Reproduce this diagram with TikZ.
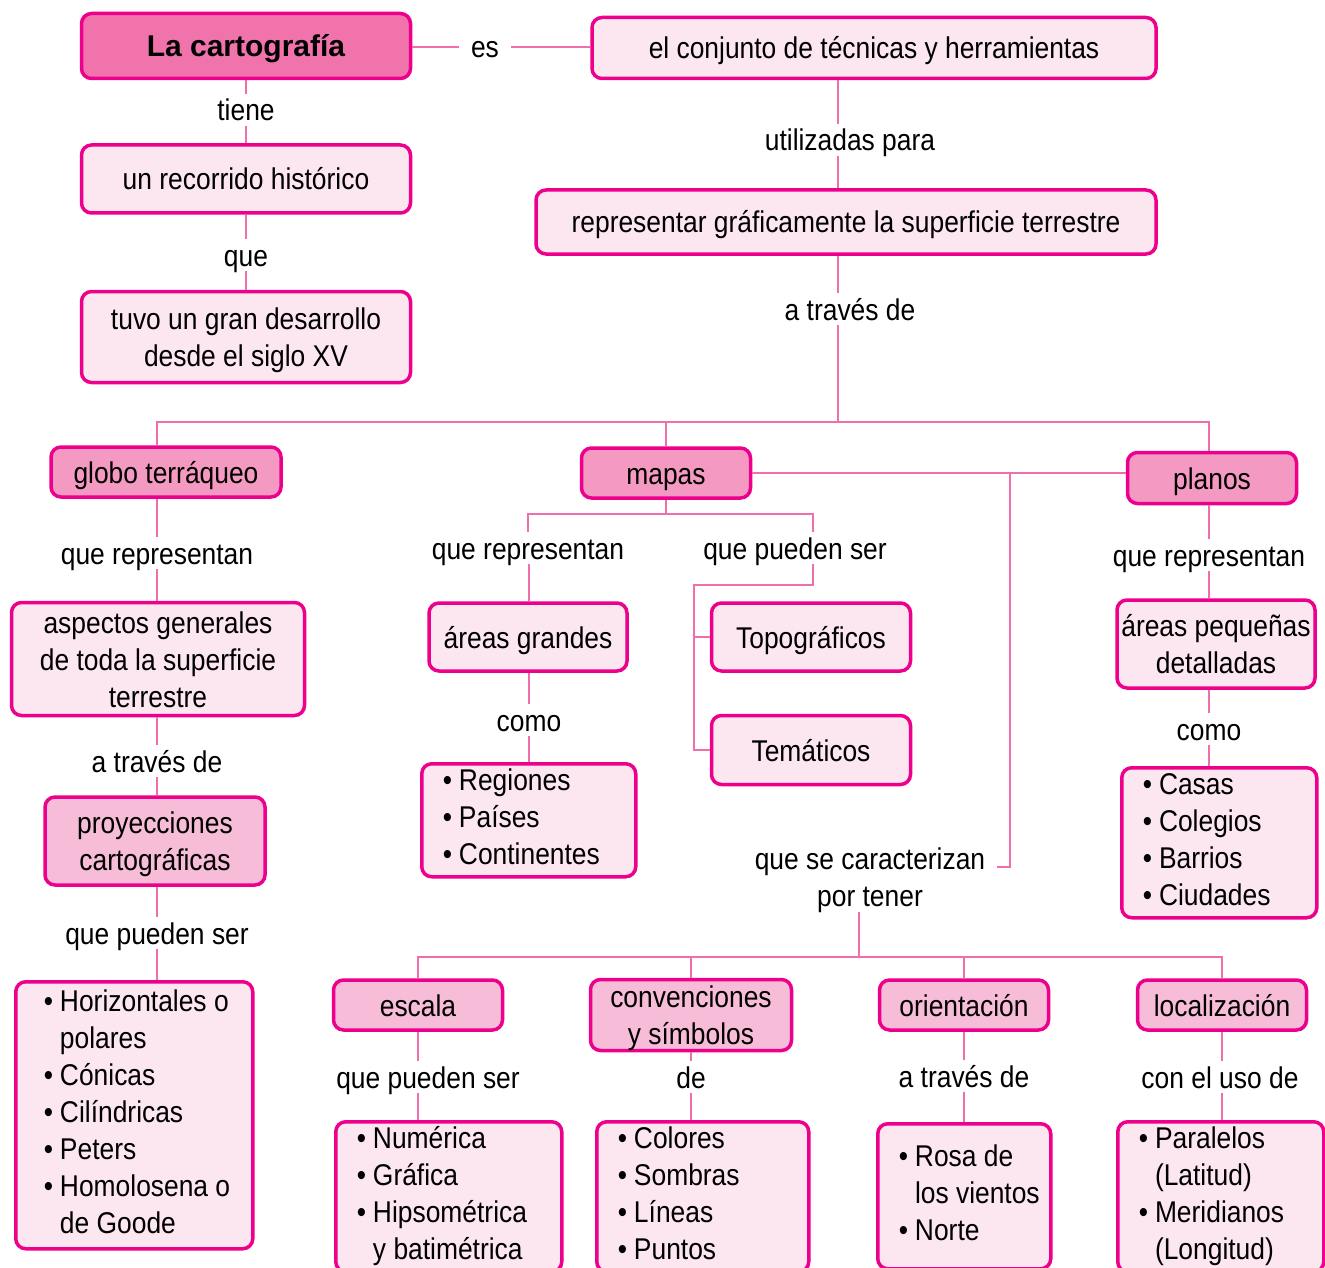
\documentclass[tikz,border=0pt]{standalone}
\usepackage{fontspec}
\setmainfont{Liberation Sans}[FakeStretch=0.88]
\newfontfamily\titlefont{Liberation Sans}
\usetikzlibrary{positioning}

\definecolor{borde}{HTML}{EC008C}
\definecolor{linea}{HTML}{F06EAA}
\definecolor{fondoA}{HTML}{F173AC}
\definecolor{fondoB}{HTML}{F49AC2}
\definecolor{fondoC}{HTML}{F7BCD7}
\definecolor{fondoD}{HTML}{FCE6F0}
\newcommand{\mapfont}{\fontsize{30}{37}\selectfont}
\newcommand{\itm}{•\hspace{7pt}}
\newcommand{\sng}{\hphantom{\itm}}

\begin{document}
\begin{tikzpicture}[x=1pt, y=-1pt,
    box/.style={draw=borde, line width=3.5pt, rounded corners=10pt, inner sep=0pt, align=center, font=\mapfont},
    mid/.style={text height=26pt, text depth=4pt},
    two/.style={text height=63pt},
    three/.style={text height=100pt},
    tema_box/.style={box, mid, fill=fondoA},
    rama_box/.style={box, mid, fill=fondoB},
    sub_box/.style={box, mid, fill=fondoC},
    hoja_box/.style={box, mid, fill=fondoD},
    lista_box/.style={box, fill=fondoD, anchor=north west, align=flush left, inner xsep=21pt, inner ysep=1pt},
    lbl/.style={inner xsep=12pt, inner ysep=3pt, align=center, font=\mapfont, text height=24pt, text depth=2pt},
    con/.style={draw=linea, line width=2.5pt}]

    \useasboundingbox (0,0) rectangle (1325,1268);
    \clip (0,0) rectangle (1325,1268);

    % parte superior
    \node[tema_box, minimum width=329, minimum height=65] (carto) at (246,46) {\titlefont\bfseries La cartografía};
    \node[lbl] (es) at (485,47) {es};
    \node[hoja_box, minimum width=564, minimum height=61] (tecnicas) at (874,48) {el conjunto de técnicas y herramientas};
    \node[lbl] (tiene) at (246,110) {tiene};
    \node[hoja_box, minimum width=329, minimum height=68] (recorrido) at (246,179) {un recorrido histórico};
    \node[lbl] (que) at (246,255) {que};
    \node[hoja_box, two, minimum width=329, minimum height=91] (desarrollo) at (246,337) {tuvo un gran desarrollo\\desde el siglo XV};
    \node[lbl] (utilizadas) at (850,140) {utilizadas para};
    \node[hoja_box, minimum width=620, minimum height=64] (representar) at (846,222) {representar gráficamente la superficie terrestre};
    \node[lbl] (atraves) at (850,309) {a través de};
    \coordinate (jtecnicas) at (838,422);

    \node[rama_box, minimum width=230, minimum height=50] (globo) at (166,472) {globo terráqueo};
    \node[rama_box, minimum width=169, minimum height=50] (mapas) at (666,473) {mapas};
    \node[rama_box, minimum width=169, minimum height=51] (planos) at (1212,478) {planos};

    % globo
    \node[lbl] (gq1) at (157,553) {que representan};
    \node[hoja_box, three, minimum width=293, minimum height=113] (aspectos) at (158,659) {aspectos generales\\de toda la superficie\\terrestre};
    \node[lbl] (gq2) at (157,761) {a través de};
    \node[sub_box, two, minimum width=220, minimum height=88] (proyecciones) at (155,841) {proyecciones\\cartográficas};
    \node[lbl] (gq3) at (157,933) {que pueden ser};
    \node[lista_box, inner xsep=28pt, inner ysep=4pt, text width=181] (tipos_proy) at (14,980) {\noindent\begin{tabular}{@{}l@{}}
        \itm Horizontales o\\ \sng polares\\ \itm Cónicas\\ \itm Cilíndricas\\ \itm Peters\\ \itm Homolosena o\\ \sng de Goode
    \end{tabular}};

    % mapas
    \node[lbl] (mq1) at (528,548) {que representan};
    \node[lbl] (mq2) at (795,548) {que pueden ser};
    \coordinate (jmapas) at (666,514);
    \coordinate (jpueden) at (813,514);
    \node[hoja_box, minimum width=198, minimum height=68] (grandes) at (528,637) {áreas grandes};
    \node[lbl] (mq3) at (529,720) {como};
    \node[lista_box, text width=172] (regiones) at (420,762) {\noindent\begin{tabular}{@{}l@{}}
        \itm Regiones\\ \itm Países\\ \itm Continentes
    \end{tabular}};
    \coordinate (jtipos) at (694,585);
    \node[hoja_box, minimum width=199, minimum height=68] (topo) at (811,637) {Topográficos};
    \node[hoja_box, minimum width=199, minimum height=69] (tema) at (811,750) {Temáticos};
    \coordinate (jcarac) at (1010,473);
    \node[lbl, text height=61pt] (caract) at (870,877) {que se caracterizan\\por tener};
    \coordinate (jcar) at (859,957);

    % elementos del mapa
    \node[sub_box, minimum width=169, minimum height=50] (escala) at (418,1005) {escala};
    \node[sub_box, two, minimum width=201, minimum height=71] (conv) at (691,1015) {convenciones\\y símbolos};
    \node[sub_box, minimum width=169, minimum height=50] (orient) at (964,1005) {orientación};
    \node[sub_box, minimum width=169, minimum height=50] (loc) at (1222,1005) {localización};
    \node[lbl] (eq1) at (428,1077) {que pueden ser};
    \node[lbl] (cq1) at (691,1077) {de};
    \node[lbl] (oq1) at (964,1076) {a través de};
    \node[lbl] (lq1) at (1220,1077) {con el uso de};
    \node[lista_box, text width=184] (tipos_escala) at (334,1120) {\noindent\begin{tabular}{@{}l@{}}
        \itm Numérica\\ \itm Gráfica\\ \itm Hipsométrica\\ \sng y batimétrica
    \end{tabular}};
    \node[lista_box, text width=170] (simbolos) at (595,1120) {\noindent\begin{tabular}{@{}l@{}}
        \itm Colores\\ \itm Sombras\\ \itm Líneas\\ \itm Puntos
    \end{tabular}};
    \node[lista_box, inner ysep=17pt, text width=131] (rosa) at (876,1122) {\noindent\begin{tabular}{@{}l@{}}
        \itm Rosa de\\ \sng los vientos\\ \itm Norte
    \end{tabular}};
    \node[lista_box, text width=164] (lineas) at (1116,1120) {\noindent\begin{tabular}{@{}l@{}}
        \itm Paralelos\\ \sng (Latitud)\\ \itm Meridianos\\ \sng (Longitud)
    \end{tabular}};

    % planos
    \node[lbl] (pq1) at (1209,555) {que representan};
    \node[hoja_box, two, minimum width=198, minimum height=88] (pequenas) at (1216,644) {áreas pequeñas\\detalladas};
    \node[lbl] (pq2) at (1209,729) {como};
    \node[lista_box, text width=153] (casas) at (1120,766) {\noindent\begin{tabular}{@{}l@{}}
        \itm Casas\\ \itm Colegios\\ \itm Barrios\\ \itm Ciudades
    \end{tabular}};

    % conectores
    \draw[con] (carto.east |- es) -- (es) -- (tecnicas.west |- es);
    \draw[con] (carto) -- (tiene) -- (recorrido);
    \draw[con] (recorrido) -- (que) -- (desarrollo);
    \draw[con] (tecnicas.south -| jtecnicas) -- (utilizadas.north -| jtecnicas);
    \draw[con] (utilizadas.south -| jtecnicas) -- (representar.north -| jtecnicas);
    \draw[con] (representar.south -| jtecnicas) -- (atraves.north -| jtecnicas);
    \draw[con] (atraves.south -| jtecnicas) -- (jtecnicas);
    \draw[con] (globo.north -| gq1) |- (jtecnicas) -| (planos.north -| pq1);
    \draw[con] (mapas.north) -- (mapas.north |- jtecnicas);

    \draw[con] (globo.south -| gq1) -- (gq1);
    \draw[con] (gq1) -- (aspectos.north -| gq1);
    \draw[con] (aspectos.south -| gq2) -- (gq2) -- (proyecciones.north -| gq2);
    \draw[con] (proyecciones.south -| gq3) -- (gq3) -- (tipos_proy.north -| gq3);

    \draw[con] (mapas.south) -- (jmapas);
    \draw[con] (mq1.north) |- (jpueden) -- (mq2.north -| jpueden);
    \draw[con] (mq1.south -| mq3) -- (grandes.north -| mq3);
    \draw[con] (grandes.south -| mq3) -- (mq3) -- (regiones.north -| mq3);
    \draw[con] (mq2.south -| jpueden) |- (jtipos) |- (tema.west);
    \draw[con] (jtipos |- topo.west) -- (topo.west);
    \draw[con] (mapas.east) -- (mapas.east -| planos.west);
    \draw[con] (jcarac) |- ([yshift=10pt]caract.east);
    \draw[con] (caract.south -| jcar) -- (jcar);
    \draw[con] (escala.north) |- (jcar) -| (loc.north);
    \draw[con] (conv.north) -- (conv.north |- jcar);
    \draw[con] (orient.north) -- (orient.north |- jcar);

    \draw[con] (escala.south) -- (escala.south |- eq1.north);
    \draw[con] (escala.south |- eq1.south) -- (escala.south |- tipos_escala.north);
    \draw[con] (conv.south) -- (cq1) -- (conv.south |- simbolos.north);
    \draw[con] (orient.south) -- (oq1) -- (orient.south |- rosa.north);
    \draw[con] (loc.south) -- (loc.south |- lq1.north);
    \draw[con] (loc.south |- lq1.south) -- (loc.south |- lineas.north);

    \draw[con] (planos.south -| pq1) -- (pq1) -- (pequenas.north -| pq1);
    \draw[con] (pequenas.south -| pq2) -- (pq2) -- (casas.north -| pq2);
\end{tikzpicture}
\end{document}
